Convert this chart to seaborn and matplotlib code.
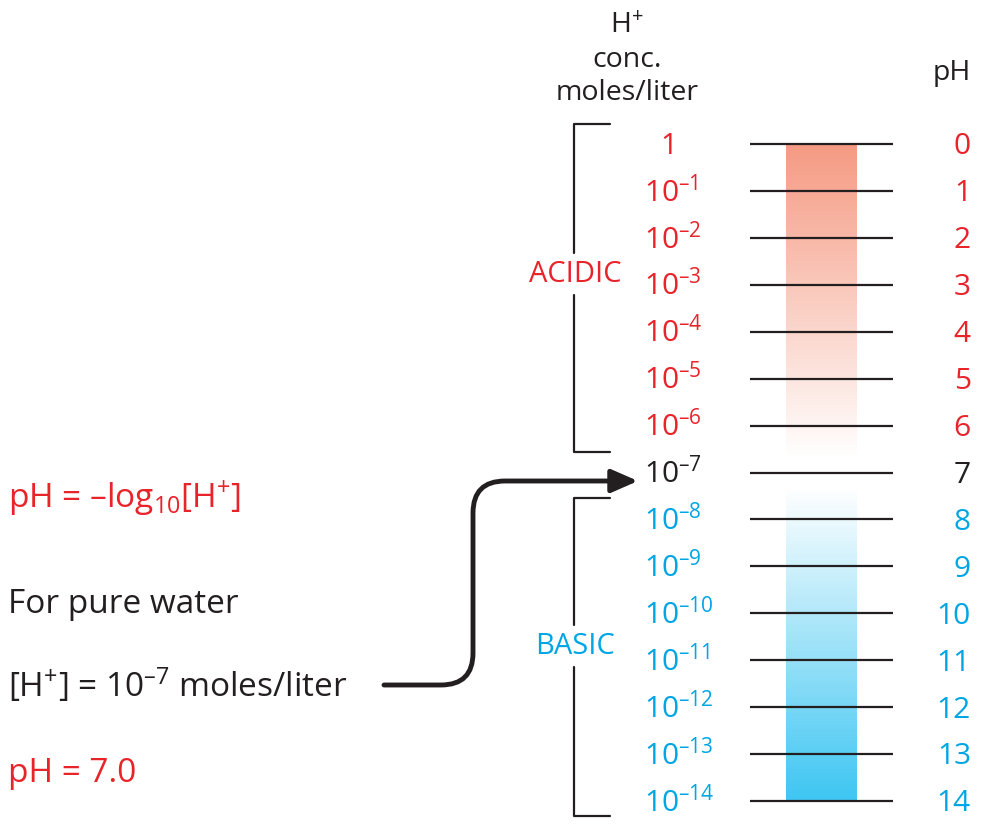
import numpy as np
import matplotlib
matplotlib.use("Agg")
import matplotlib.pyplot as plt
import seaborn as sns
from matplotlib.patches import FancyArrowPatch
from matplotlib.path import Path

sns.set_style("white")
plt.rcParams['font.family'] = ['Open Sans', 'DejaVu Sans']
plt.rcParams['mathtext.fontset'] = 'custom'
plt.rcParams['mathtext.rm'] = 'Open Sans'

# ---- data ----
ph_values = list(range(15))
conc_exponents = [0, -1, -2, -3, -4, -5, -6, -7, -8, -9, -10, -11, -12, -13, -14]
groups = ['acid'] * 7 + ['neutral'] + ['base'] * 7
acid_range = (0, 6)
base_range = (8, 14)

RED = '#E8232A'
BLUE = '#00A6E4'
BLACK = '#231F20'
group_color = {'acid': RED, 'neutral': BLACK, 'base': BLUE}

# ---- figure: x in pixels, y in pH units ----
W, H = 982, 829
PX_TOP, PX_STEP = 145, 46.93
fig = plt.figure(figsize=(W / 100, H / 100), dpi=100)
ax = fig.add_axes([0, 0, 1, 1])
ax.set_xlim(0, W)
ylo, yhi = -PX_TOP / PX_STEP, (H - PX_TOP) / PX_STEP
ax.axis('off')


def py(px):
    # pixel row -> pH-axis coordinate (layout helper)
    return (px - PX_TOP) / PX_STEP


# gradient bars
red_cmap = sns.blend_palette(['#F59A82', '#FFFFFF'], as_cmap=True)
blue_cmap = sns.blend_palette(['#FFFFFF', '#3EC6F2'], as_cmap=True)
grad = np.linspace(0, 1, 256).reshape(-1, 1)
ax.imshow(grad, cmap=red_cmap, aspect='auto', origin='upper',
          extent=(786, 857, acid_range[1] + 0.7, acid_range[0]), zorder=1)
ax.imshow(grad, cmap=blue_cmap, aspect='auto', origin='upper',
          extent=(786, 857, base_range[1], base_range[0] - 0.65), zorder=1)

# horizontal pH lines
ax.hlines(ph_values, 750, 893, color=BLACK, lw=1.6, zorder=2)

# labels
for ph, e, g in zip(ph_values, conc_exponents, groups):
    c = group_color[g]
    if e == 0:
        ax.text(669, ph + 0.2, '1', ha='center', va='baseline', color=c, fontsize=21.5)
    else:
        ax.text(644, ph + 0.2, r'$\mathregular{10^{–%d}}$' % (-e), ha='left',
                va='baseline', color=c, fontsize=21.5)
    ax.text(971, ph + 0.2, str(ph), ha='right', va='baseline', color=c, fontsize=21.5)

# headers
ax.text(627, py(33), r'H$\mathregular{^{+}}$', ha='center', va='baseline', color=BLACK, fontsize=20.5)
ax.text(627, py(67), 'conc.', ha='center', va='baseline', color=BLACK, fontsize=20.5)
ax.text(627, py(100), 'moles/liter', ha='center', va='baseline', color=BLACK, fontsize=20.5)
ax.text(971, py(80), 'pH', ha='right', va='baseline', color=BLACK, fontsize=20.5)

# brackets
def bracket(top, bottom, gap_mid, gap_half, label, color):
    x0, x1 = 574, 610
    ax.plot([x1, x0, x0], [top, top, gap_mid - gap_half], color=BLACK, lw=1.6)
    ax.plot([x0, x0, x1], [gap_mid + gap_half, bottom, bottom], color=BLACK, lw=1.6)
    ax.text(x0 + 1, gap_mid, label, ha='center', va='center', color=color, fontsize=21)

bracket(acid_range[0] - 0.43, acid_range[1] + 0.56, py(275), 0.45, 'ACIDIC', RED)
bracket(base_range[0] - 0.45, base_range[1] + 0.32, py(647), 0.45, 'BASIC', BLUE)

# left side text
ax.text(8, py(508), r'pH = –log$\mathregular{_{10}}$[H$\mathregular{^{+}}$]', color=RED,
        fontsize=24, va='baseline')
ax.text(8, py(613), 'For pure water', color=BLACK, fontsize=24, va='baseline')
ax.text(8, py(697), r'[H$\mathregular{^{+}}$] = 10$\mathregular{^{–7}}$ moles/liter',
        color=BLACK, fontsize=24, va='baseline')
ax.text(8, py(782), 'pH = 7.0', color=RED, fontsize=24, va='baseline')

# arrow to pH 7
r = 32
verts = [(384, py(686)), (473 - r, py(686)), (473, py(686)), (473, py(686 - r)),
         (473, py(482 + r)), (473, py(482)), (473 + r, py(482)), (638, py(482))]
codes = [Path.MOVETO, Path.LINETO, Path.CURVE3, Path.CURVE3,
         Path.LINETO, Path.CURVE3, Path.CURVE3, Path.LINETO]
arrow = FancyArrowPatch(path=Path(verts, codes), arrowstyle='-|>,head_length=16,head_width=7',
                        color=BLACK, lw=3.5, mutation_scale=1)
ax.add_patch(arrow)

ax.set_ylim(yhi, ylo)
ax.set_xlim(0, W)
fig.savefig('out.png', dpi=100)
